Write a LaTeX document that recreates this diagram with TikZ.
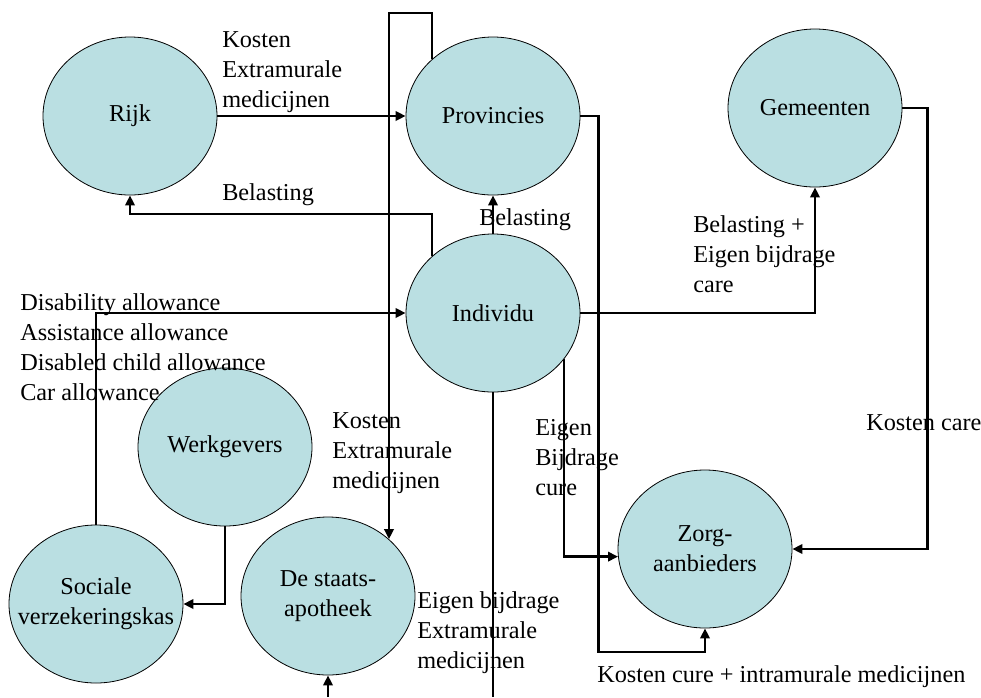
\documentclass[tikz,border=0pt]{standalone}
\usepackage{fontspec}
\setmainfont{Liberation Serif}
\usetikzlibrary{shapes.geometric,arrows.meta}
% zero-width box so long names do not enlarge the ellipse
\newcommand{\zw}[1]{\makebox[0pt]{#1}}
\definecolor{bubble}{RGB}{186,223,226}
\begin{document}
\begin{tikzpicture}[x=0.75pt,y=-0.75pt,
  font=\fontsize{18.2}{22.5}\selectfont,
  actor/.style={ellipse,draw=black,line width=0.6pt,fill=bubble,
    minimum width=130.5pt,minimum height=118.5pt,inner sep=0pt,align=center},
  flow/.style={line width=1.9pt},
  arr/.style={flow,-{Triangle[length=7.5pt,width=7pt]}},
  lbl/.style={anchor=north west,inner sep=0pt,align=left},
  lbl1/.style={anchor=base west,inner sep=0pt}]
\useasboundingbox (0,0) rectangle (981,697);

% actors
\node[actor] (rijk) at (130,116) {\zw{Rijk}};
\node[actor] (prov) at (493,116) {\zw{Provincies}};
\node[actor] (gem)  at (815,108) {\zw{Gemeenten}};
\node[actor] (ind)  at (493,313) {\zw{Individu}};
\node[actor] (werk) at (225,447) {\zw{Werkgevers}};
\node[actor] (soc)  at (96,604)  {\zw{Sociale}\\\zw{verzekeringskas}};
\node[actor] (apo)  at (328,596) {\zw{De staats-}\\\zw{apotheek}};
\node[actor] (zorg) at (705,549) {\zw{Zorg-}\\\zw{aanbieders}};

% free ends at the lower edge
\coordinate (apofeed) at (328,697);
\coordinate (indfoot) at (493,697);

% money flows
\draw[arr] (rijk.east) -- (prov.west);
\draw[arr] (ind.137) -- (ind.137 |- 0,214) -| (rijk.south);
\draw[arr] (prov.137) -- (prov.137 |- 0,13) -| (apo.43);
\draw[arr] (ind.north) -- (prov.south);
\draw[arr] (ind.east) -| (gem.south);
\draw[arr] (gem.east) -- ++(25,0) |- (zorg.east);
\draw[arr] (prov.east) -- ++(18,0) -- ++(0,536) -| (zorg.south);
\draw[arr] (ind.-33) |- (zorg.185);
\draw[arr] (soc.north) |- (ind.west);
\draw[arr] (werk.south) |- (soc.east);
\draw[arr] (apofeed) -- (apo.south);
\draw[flow] (ind.south) -- (indfoot);

% flow labels
\node[lbl] (kostenA) at (222,26) {\strut Kosten\\Extramurale\\medicijnen};
\node[lbl1] (belA) at (222,200) {Belasting};
\node[lbl1] (belB) at (479,225) {Belasting};
\node[lbl] (belC) at (693,211) {\strut Belasting +\\Eigen bijdrage\\care};
\node[lbl] (allow) at (20,289) {\strut Disability allowance\\Assistance allowance\\Disabled child allowance\\Car allowance};
\node[lbl] (kostenB) at (332,407) {\strut Kosten\\Extramurale\\medicijnen};
\node[lbl] (eigenA) at (535,414) {\strut Eigen\\Bijdrage\\cure};
\node[lbl1] (care) at (866,430) {Kosten care};
\node[lbl] (eigenB) at (417,587) {\strut Eigen bijdrage\\Extramurale\\medicijnen};
\node[lbl1] (cure) at (597,682) {Kosten cure + intramurale medicijnen};
\end{tikzpicture}
\end{document}
